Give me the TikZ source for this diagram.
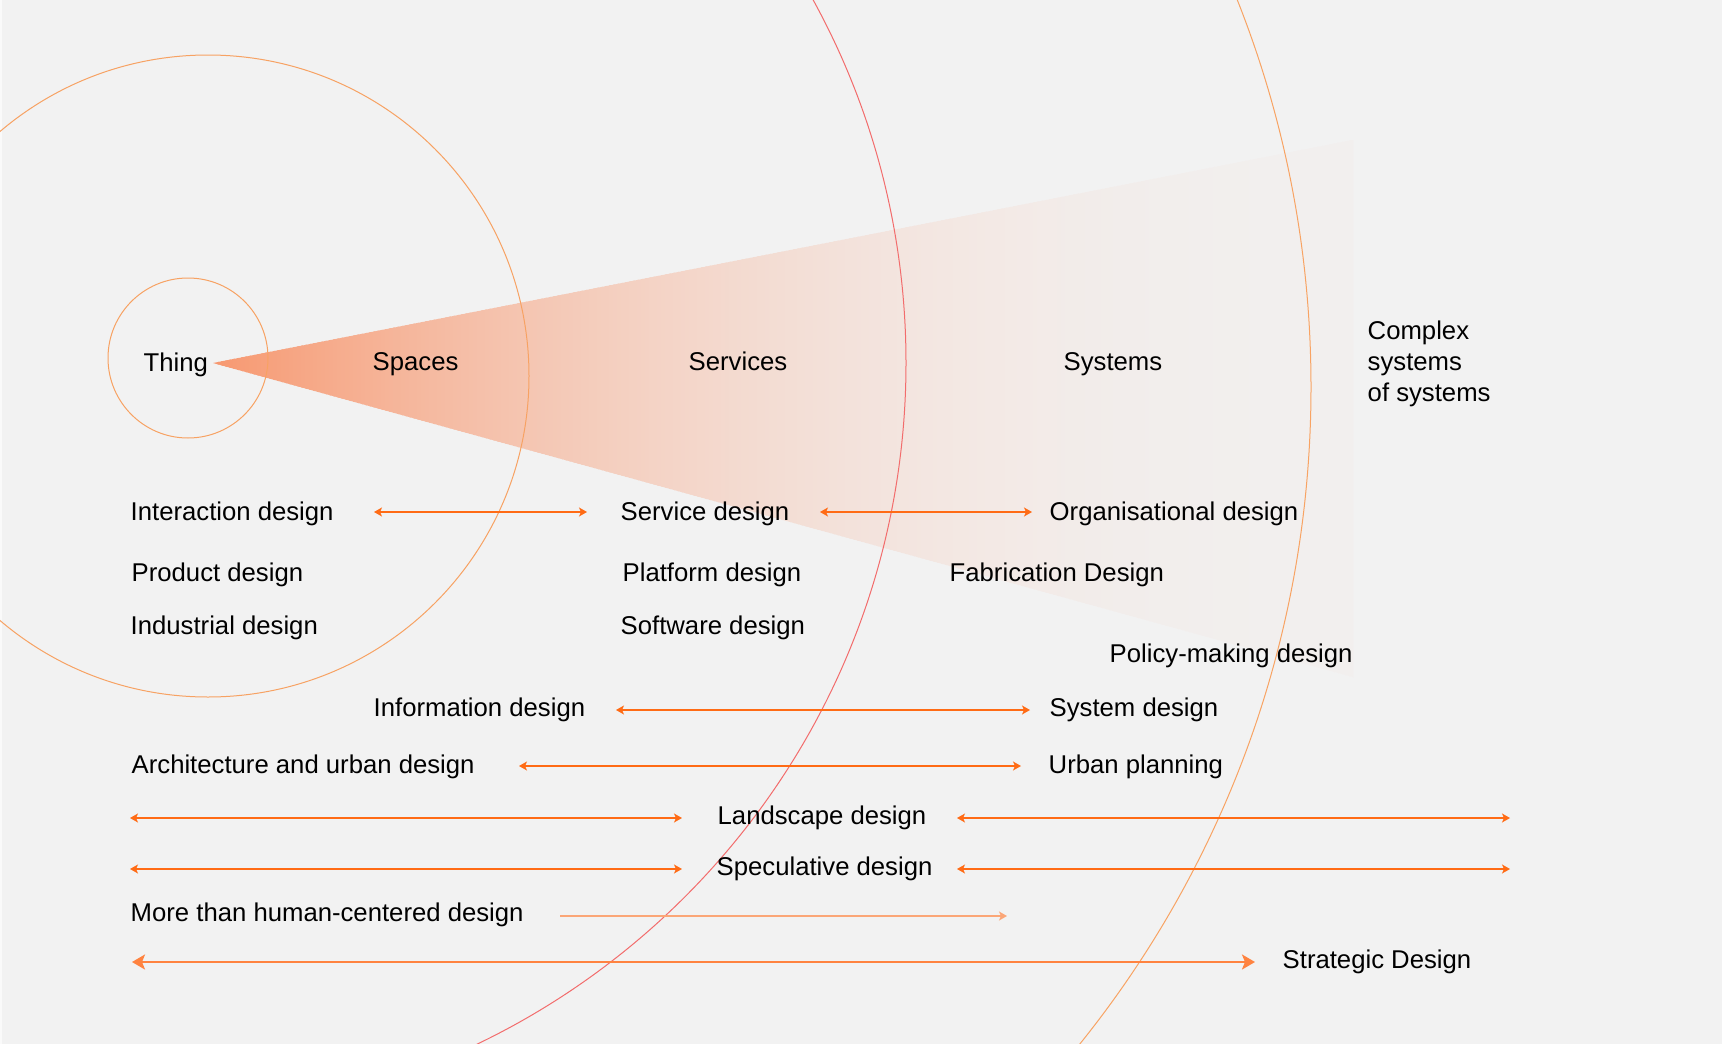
\documentclass[tikz,border=0pt]{standalone}
\usepackage{fontspec}
\setmainfont{Liberation Sans}
\usetikzlibrary{arrows.meta}
\definecolor{bgc}{HTML}{F2F2F2}
\definecolor{conec}{RGB}{247,152,112}
\definecolor{ringc}{HTML}{F7A263}
\definecolor{redc}{HTML}{F26C6C}
\definecolor{outerc}{HTML}{F8A363}
\definecolor{arrc}{HTML}{FF6B15}
\definecolor{lightarr}{HTML}{FBA677}
\definecolor{strongarr}{HTML}{FF8340}
\begin{document}
\begin{tikzpicture}[x=1pt,y=-1pt,
  lbl/.style={anchor=base west, inner sep=0pt, font=\fontsize{25.7}{31}\selectfont, text=black, xshift=1.5pt, yshift=1pt},
  ring/.style={line width=1pt},
  tipthin/.tip={Stealth[length=8pt,width=9pt,inset=2pt]},
  tipbig/.tip={Stealth[length=13pt,width=15pt,inset=3pt]},
  biarr/.style={draw=arrc, line width=1.2pt, tipthin-tipthin},
  onearr/.style={draw=lightarr, line width=1.6pt, -tipthin},
  bigarr/.style={draw=strongarr, line width=2.4pt, tipbig-tipbig}]
\useasboundingbox (0,0) rectangle (1722,1044);
\clip (0,0) rectangle (1722,1044);
\fill[bgc] (0,0) rectangle (1722,1044);
\fill[white!60!bgc] (0,0) rectangle (2,1044);
% cone
\begin{scope}
  \clip (213,363) -- (1353,140) -- (1353,677) -- cycle;
  \foreach \i in {0,...,285}{
    \pgfmathsetmacro\f{97*(1-(\i+0.5)/286)^2.3+3}
    \fill[conec!\f!bgc] ({213+4*\i},100) rectangle ({218.5+4*\i},720);
  }
\end{scope}
% circles and arcs
\draw[ring, draw=ringc] (188,358) circle[radius=80];
\draw[ring, draw=ringc] (208,376) circle[radius=321];
\draw[ring, draw=redc] (151,363) circle[radius=755];
\draw[ring, draw=outerc] (262,387) circle[radius=1049];
% arrow end points
\coordinate (a1l) at (374,512);  \coordinate (a1r) at (587,512);
\coordinate (a2l) at (820,512);  \coordinate (a2r) at (1032,512);
\coordinate (dl) at (616,710);   \coordinate (dr) at (1030,710);
\coordinate (el) at (519,766);   \coordinate (er) at (1021,766);
\coordinate (l1l) at (130,818);  \coordinate (l1r) at (682,818);
\coordinate (l2l) at (957,818);  \coordinate (l2r) at (1510,818);
\coordinate (s1l) at (130,869);  \coordinate (s1r) at (682,869);
\coordinate (s2l) at (957,869);  \coordinate (s2r) at (1510,869);
\coordinate (ml) at (560,916);   \coordinate (mr) at (1007,916);
\coordinate (gl) at (132,962);   \coordinate (gr) at (1255,962);
\draw[biarr] (a1l) -- (a1r);
\draw[biarr] (a2l) -- (a2r);
\draw[biarr] (dl) -- (dr);
\draw[biarr] (el) -- (er);
\draw[biarr] (l1l) -- (l1r);
\draw[biarr] (l2l) -- (l2r);
\draw[biarr] (s1l) -- (s1r);
\draw[biarr] (s2l) -- (s2r);
\draw[onearr] (ml) -- (mr);
\draw[bigarr] (gl) -- (gr);
% labels
\node[lbl] (thing) at (142,372) {Thing};
\node[lbl] (spaces) at (371,371) {Spaces};
\node[lbl] (services) at (687,371) {Services};
\node[lbl] (systems) at (1062,371) {Systems};
\node[lbl] (complex) at (1366,340) {\vtop{\baselineskip=31pt\hbox{Complex}\hbox{systems}\hbox{of systems}}};
\node[lbl] (inter) at (129,521) {Interaction design};
\node[lbl] (product) at (130,582) {Product design};
\node[lbl] (indus) at (129,635) {Industrial design};
\node[lbl] (service) at (619,521) {Service design};
\node[lbl] (platform) at (621,582) {Platform design};
\node[lbl] (software) at (619,635) {Software design};
\node[lbl] (organ) at (1048,521) {Organisational design};
\node[lbl] (fabric) at (948,582) {Fabrication Design};
\node[lbl] (policy) at (1108,663) {Policy-making design};
\node[lbl] (info) at (372,717) {Information design};
\node[lbl] (sysd) at (1048,717) {System design};
\node[lbl] (arch) at (130,774) {Architecture and urban design};
\node[lbl] (urban) at (1047,774) {Urban planning};
\node[lbl] (land) at (716,825) {Landscape design};
\node[lbl] (spec) at (715,876) {Speculative design};
\node[lbl] (more) at (129,922) {More than human-centered design};
\node[lbl] (strat) at (1281,969) {Strategic Design};
\end{tikzpicture}
\end{document}
